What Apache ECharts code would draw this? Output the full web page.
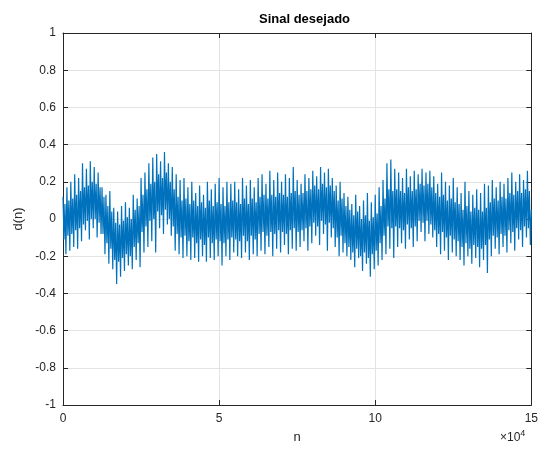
<!DOCTYPE html>
<html>
<head>
<meta charset="utf-8">
<script src="https://cdn.jsdelivr.net/npm/echarts@6/dist/echarts.min.js"></script>
<style>
  html, body { margin: 0; padding: 0; background: #fff; }
  #chart { width: 541px; height: 452px; }
</style>
</head>
<body>
<div id="chart"></div>
<script>
// d(n): per block of n, an outer peak, two inner core values and an outer trough
const blockSize = 1250;
const peaks = [
  0.12, 0.17, 0.2, 0.24, 0.22, 0.3, 0.27, 0.31, 0.28, 0.25,
  0.17, 0.13, 0.15, 0.06, 0.04, 0.07, 0.09, 0.06, 0.13, 0.11,
  0.22, 0.25, 0.3, 0.33, 0.35, 0.31, 0.36, 0.3, 0.28, 0.24,
  0.21, 0.22, 0.17, 0.2, 0.14, 0.18, 0.13, 0.2, 0.16, 0.19,
  0.22, 0.17, 0.2, 0.19, 0.2, 0.16, 0.22, 0.18, 0.21, 0.17,
  0.22, 0.24, 0.19, 0.26, 0.21, 0.25, 0.2, 0.24, 0.22, 0.28,
  0.21, 0.19, 0.24, 0.22, 0.26, 0.23, 0.28, 0.25, 0.27, 0.22,
  0.18, 0.2, 0.14, 0.12, 0.08, 0.13, 0.07, 0.1, 0.14, 0.09,
  0.13, 0.17, 0.21, 0.3, 0.32, 0.27, 0.25, 0.22, 0.27, 0.23,
  0.26, 0.24, 0.27, 0.25, 0.26, 0.23, 0.19, 0.25, 0.2, 0.18,
  0.22, 0.17, 0.14, 0.2, 0.15, 0.13, 0.16, 0.14, 0.19, 0.18,
  0.21, 0.17, 0.2, 0.19, 0.22, 0.25, 0.2, 0.24, 0.21, 0.26
];
const coreLow = [
  -0.11, -0.09, -0.08, -0.06, -0.05, -0.03, -0.01, 0.0, 0.0, -0.02,
  -0.08, -0.13, -0.16, -0.22, -0.23, -0.21, -0.19, -0.2, -0.15, -0.13,
  -0.07, -0.04, -0.01, 0.0, 0.04, 0.02, 0.05, 0.0, -0.04, -0.08,
  -0.1, -0.09, -0.12, -0.1, -0.13, -0.11, -0.14, -0.1, -0.13, -0.11,
  -0.12, -0.13, -0.11, -0.1, -0.11, -0.12, -0.09, -0.12, -0.09, -0.11,
  -0.08, -0.07, -0.09, -0.07, -0.08, -0.06, -0.07, -0.08, -0.06, -0.05,
  -0.07, -0.06, -0.05, -0.04, -0.02, -0.04, -0.01, -0.03, -0.02, -0.05,
  -0.1, -0.09, -0.13, -0.15, -0.18, -0.16, -0.2, -0.18, -0.21, -0.19,
  -0.17, -0.13, -0.09, -0.04, -0.05, -0.04, -0.05, -0.06, -0.03, -0.05,
  -0.04, -0.01, -0.02, -0.01, -0.03, -0.06, -0.08, -0.07, -0.1, -0.09,
  -0.11, -0.12, -0.15, -0.13, -0.16, -0.14, -0.15, -0.16, -0.14, -0.11,
  -0.09, -0.1, -0.08, -0.09, -0.06, -0.07, -0.05, -0.06, -0.04, -0.05
];
const coreHigh = [
  0.08, 0.1, 0.11, 0.13, 0.15, 0.17, 0.18, 0.2, 0.19, 0.17,
  0.12, 0.07, 0.04, -0.02, -0.03, -0.01, 0.01, 0.0, 0.05, 0.07,
  0.13, 0.16, 0.19, 0.2, 0.24, 0.22, 0.25, 0.2, 0.16, 0.12,
  0.1, 0.11, 0.08, 0.1, 0.07, 0.09, 0.06, 0.1, 0.07, 0.09,
  0.08, 0.07, 0.09, 0.1, 0.09, 0.08, 0.11, 0.08, 0.11, 0.09,
  0.12, 0.13, 0.11, 0.13, 0.12, 0.14, 0.13, 0.12, 0.14, 0.15,
  0.13, 0.14, 0.15, 0.16, 0.18, 0.16, 0.19, 0.17, 0.18, 0.15,
  0.1, 0.11, 0.07, 0.05, 0.02, 0.04, 0.0, 0.02, -0.01, 0.01,
  0.03, 0.07, 0.11, 0.16, 0.15, 0.16, 0.15, 0.14, 0.17, 0.15,
  0.16, 0.19, 0.18, 0.19, 0.17, 0.14, 0.12, 0.13, 0.1, 0.11,
  0.09, 0.08, 0.05, 0.07, 0.04, 0.06, 0.05, 0.04, 0.06, 0.09,
  0.11, 0.1, 0.12, 0.11, 0.14, 0.13, 0.15, 0.14, 0.16, 0.15
];
const troughs = [
  -0.19, -0.17, -0.15, -0.16, -0.12, -0.06, -0.11, -0.05, -0.1, -0.08,
  -0.19, -0.24, -0.27, -0.35, -0.31, -0.28, -0.25, -0.27, -0.22, -0.26,
  -0.18, -0.15, -0.12, -0.18, -0.05, -0.08, -0.03, -0.09, -0.17, -0.19,
  -0.21, -0.2, -0.22, -0.21, -0.23, -0.2, -0.23, -0.21, -0.22, -0.2,
  -0.25, -0.2, -0.22, -0.18, -0.2, -0.21, -0.18, -0.22, -0.19, -0.2,
  -0.17, -0.19, -0.15, -0.2, -0.16, -0.18, -0.14, -0.19, -0.16, -0.17,
  -0.15, -0.12, -0.17, -0.13, -0.09, -0.14, -0.08, -0.17, -0.1, -0.15,
  -0.2, -0.18, -0.2, -0.22, -0.26, -0.21, -0.28, -0.24, -0.31, -0.27,
  -0.25, -0.22, -0.19, -0.16, -0.21, -0.15, -0.13, -0.16, -0.11, -0.15,
  -0.12, -0.07, -0.12, -0.08, -0.1, -0.15, -0.19, -0.17, -0.22, -0.18,
  -0.2, -0.22, -0.25, -0.2, -0.24, -0.21, -0.26, -0.22, -0.29, -0.2,
  -0.16, -0.19, -0.15, -0.18, -0.13, -0.17, -0.11, -0.15, -0.1, -0.14
];
const lastValue = 0.05;
const xMax = 150000;

const signal = [];
peaks.forEach((p, i) => {
  const n = i * blockSize;
  signal.push([n, p]);
  signal.push([n + blockSize / 4, coreLow[i]]);
  signal.push([n + blockSize / 2, coreHigh[i]]);
  signal.push([n + blockSize * 3 / 4, troughs[i]]);
});
signal.push([xMax, lastValue]);

const font = "Liberation Sans";
const axisCol = "#262626";
const gridCol = "#e3e3e3";

const chart = echarts.init(document.getElementById("chart"));
chart.setOption({
  animation: false,
  title: {
    text: "Sinal desejado", left: 299.5, top: 8, textAlign: "center",
    textStyle: { fontFamily: font, fontSize: 13, fontWeight: "bold", color: "#000" }
  },
  grid: { left: 63, right: 5, top: 33, bottom: 47, show: false },
  xAxis: [{
    type: "value", min: 0, max: xMax, interval: 50000,
    axisLine: { onZero: false, lineStyle: { color: axisCol, width: 1 } },
    axisTick: { inside: true, length: 5, lineStyle: { color: axisCol } },
    axisLabel: { margin: 8, fontFamily: font, fontSize: 12, color: axisCol, formatter: v => String(v / 10000) },
    splitLine: { show: true, lineStyle: { color: gridCol, width: 1 } },
    name: "n", nameLocation: "middle", nameGap: 26,
    nameTextStyle: { fontFamily: font, fontSize: 13, color: axisCol }
  }, {
    type: "value", position: "top", min: 0, max: xMax, interval: 50000,
    axisLine: { onZero: false, lineStyle: { color: axisCol, width: 1 } },
    axisTick: { inside: true, length: 5, lineStyle: { color: axisCol } },
    axisLabel: { show: false }, splitLine: { show: false }
  }],
  yAxis: [{
    type: "value", min: -1, max: 1, interval: 0.2,
    axisLine: { show: true, onZero: false, lineStyle: { color: axisCol, width: 1 } },
    axisTick: { show: true, inside: true, length: 5, lineStyle: { color: axisCol } },
    axisLabel: { margin: 7, fontFamily: font, fontSize: 12, color: axisCol,
      formatter: v => String(Math.round(v * 10) / 10) },
    splitLine: { show: true, lineStyle: { color: gridCol, width: 1 } },
    name: "d(n)", nameLocation: "middle", nameGap: 37, nameRotate: 90,
    nameTextStyle: { fontFamily: font, fontSize: 13, color: axisCol }
  }, {
    type: "value", position: "right", min: -1, max: 1, interval: 0.2,
    axisLine: { show: true, onZero: false, lineStyle: { color: axisCol, width: 1 } },
    axisTick: { show: true, inside: true, length: 5, lineStyle: { color: axisCol } },
    axisLabel: { show: false }, splitLine: { show: false }
  }],
  graphic: [{
    type: "text", left: 500, top: 429,
    style: {
      text: "×10{s|4}", fontFamily: font, fontSize: 12, fill: axisCol,
      rich: { s: { fontSize: 9, verticalAlign: "top", padding: [0, 0, 8, 0], fill: axisCol } }
    }
  }],
  series: [{
    type: "line", data: signal, showSymbol: false, smooth: false, sampling: "none",
    lineStyle: { color: "#0072BD", width: 1.2 }
  }]
});
</script>
</body>
</html>
